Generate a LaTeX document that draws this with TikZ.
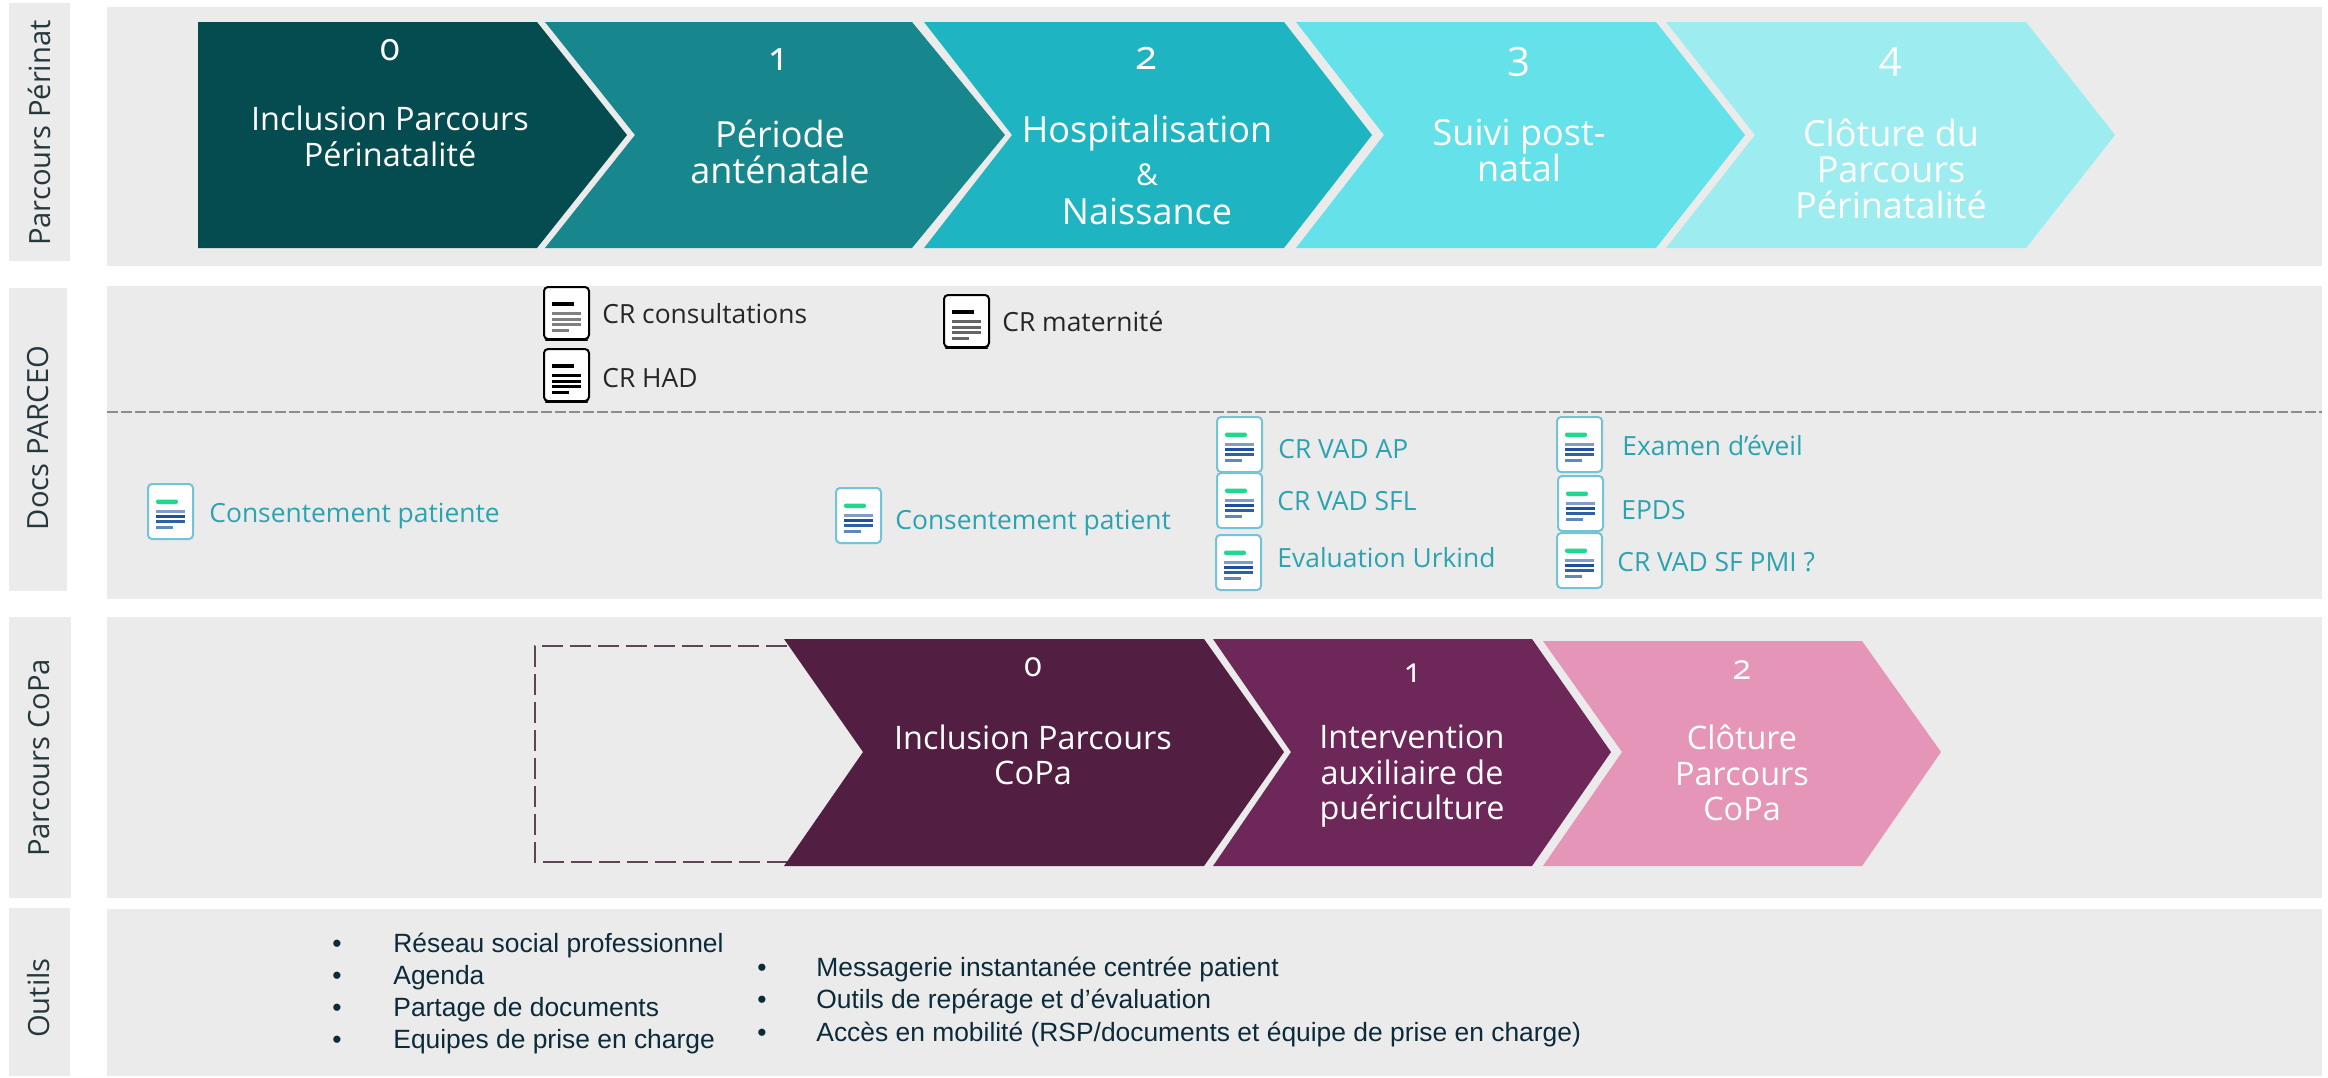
\documentclass[tikz,border=0pt]{standalone}
\usepackage{fontspec}
\setmainfont{Open Sans}
\newfontfamily\chevfont{Open Sans}
\newfontfamily\numfont[Numbers=OldStyle]{Open Sans}
\newfontfamily\docfont{Open Sans}
\newfontfamily\sidefont{Open Sans}
\newfontfamily\toolfont{Liberation Sans}
\definecolor{bandgray}{HTML}{EBEBEB}
\definecolor{sidetext}{HTML}{25383D}
\definecolor{tealA}{HTML}{054C50}
\definecolor{tealB}{HTML}{17868D}
\definecolor{tealC}{HTML}{1FB4C1}
\definecolor{tealD}{HTML}{65E1EA}
\definecolor{tealE}{HTML}{9DECF0}
\definecolor{plumA}{HTML}{521F43}
\definecolor{plumB}{HTML}{6E2759}
\definecolor{plumC}{HTML}{E596B8}
\definecolor{doctext}{HTML}{2BA3B0}
\definecolor{docedge}{HTML}{72C4D6}
\definecolor{docgreen}{HTML}{1ED98F}
\definecolor{navy}{HTML}{0B2A3A}
\definecolor{blA}{HTML}{7F9CCB}
\definecolor{blB}{HTML}{1F4FA0}
\definecolor{blC}{HTML}{2F5FA8}
\definecolor{blD}{HTML}{5F88BF}
\definecolor{boxline}{HTML}{5A4654}
\newcommand{\chev}[8]{% colour, x0, notch or x0, shoulder, tip, top, mid, bottom
  \fill[#1] (#2,#6) -- (#4,#6) -- (#5,#7) -- (#4,#8) -- (#2,#8) -- (#3,#7) -- cycle;}
\newcommand{\blackicon}[3]{% x y colour-of-lines
  \begin{scope}[shift={(#1,#2)}]
    \draw[black,line width=1.1pt,line cap=round] (2,53) -- (43,53);
    \draw[black,line width=1pt,fill=white,rounded corners=2pt] (0,0) rectangle (45,52);
    \fill[black] (8,15) rectangle (30,19);
    \fill[#3] (8,25) rectangle (37,28);
    \fill[#3] (8,30.5) rectangle (37,33.5);
    \fill[#3] (8,36) rectangle (37,39);
    \fill[#3] (8,41.5) rectangle (25,44.5);
  \end{scope}}
\newcommand{\blueicon}[2]{% x y
  \begin{scope}[shift={(#1,#2)}]
    \draw[docedge,line width=1pt,fill=white,rounded corners=2pt] (0,0) rectangle (45,55);
    \fill[docgreen,rounded corners=1pt] (8,15.5) rectangle (30,20);
    \fill[blA] (8,26) rectangle (37,28.5);
    \fill[blB] (8,31) rectangle (37,33.5);
    \fill[blC] (8,36) rectangle (37,38.5);
    \fill[blD] (8,41.5) rectangle (25,44.5);
  \end{scope}}
\tikzset{
  x=0.5pt,y=-0.5pt,
  band/.style={fill=bandgray,draw=none},
  sidelabel/.style={rotate=90,text=sidetext,font=\sidefont\fontsize{14.6}{17}\selectfont,inner sep=0pt},
  chevlabel/.style={text=white,align=center,inner sep=0pt,font=\chevfont\fontsize{18}{18}\selectfont},
  chevfirst/.style={text=white,align=center,inner sep=0pt,font=\chevfont\fontsize{16.2}{18}\selectfont},
  chevsmall/.style={text=white,align=center,inner sep=0pt,font=\chevfont\fontsize{16.2}{17.8}\selectfont},
  numlabel/.style={text=white,inner sep=0pt,font=\numfont\fontsize{20}{20}\selectfont},
  numsmall/.style={text=white,inner sep=0pt,font=\numfont\fontsize{17}{17}\selectfont},
  blackdoc/.style={anchor=west,inner sep=0pt,text=black!85,font=\docfont\fontsize{13.2}{15}\selectfont},
  bluedoc/.style={anchor=west,inner sep=0pt,text=doctext,font=\docfont\fontsize{13.2}{15}\selectfont},
  toolitem/.style={anchor=west,inner sep=0pt,text=navy,font=\toolfont\fontsize{13.2}{15}\selectfont},
}
\begin{document}
\begin{tikzpicture}
\useasboundingbox (0,0) rectangle (2328,1077);
% bands
\fill[band] (107,7) rectangle (2322,266);
\fill[band] (107,286) rectangle (2322,599);
\fill[band] (107,617) rectangle (2322,898);
\fill[band] (107,909) rectangle (2322,1076);
\fill[band] (9,3) rectangle (70,261);
\fill[band] (9,288) rectangle (67,591);
\fill[band] (9,617) rectangle (71,898);
\fill[band] (9,908) rectangle (70,1076);
\node[sidelabel] (sideA) at (39,133) {Parcours Périnat};
\node[sidelabel] (sideB) at (38,438) {Docs PARCEO};
\node[sidelabel] (sideC) at (39,758) {Parcours CoPa};
\node[sidelabel] (sideD) at (39,998) {Outils};
% separator
\coordinate (sepL) at (107,412);
\coordinate (sepR) at (2322,412);
\draw[gray!90,line width=0.9pt,dash pattern=on 5.5pt off 1.5pt] (sepL) -- (sepR);
% perinat chevrons
\chev{tealA}{198}{198}{537}{627}{22}{135}{248}
\chev{tealB}{545}{635}{912}{1005}{22}{135}{248}
\chev{tealC}{924}{1012}{1284}{1372}{22}{135}{248}
\chev{tealD}{1296}{1384}{1656}{1745}{22}{135}{248}
\chev{tealE}{1666}{1755}{2026}{2115}{22}{135}{248}
\node[numlabel,font=\numfont\fontsize{19}{19}\selectfont] (pn0) at (390,50) {0};
\node[chevfirst] (pt0) at (390,136) {Inclusion Parcours\\Périnatalité};
\node[numlabel] (pn1) at (778,60) {1};
\node[chevlabel] (pt1) at (780,152) {Période\\anténatale};
\node[numlabel] (pn2) at (1147,58) {2};
\node[chevlabel] (pt2a) at (1147,133) {Hospitalisation};
\node[chevlabel,font=\chevfont\fontsize{15}{15}\selectfont] (pt2b) at (1147,175) {\&};
\node[chevlabel] (pt2c) at (1147,211) {Naissance};
\node[numlabel] (pn3) at (1519,62) {3};
\node[chevlabel] (pt3) at (1519,150) {Suivi post-\\natal};
\node[numlabel] (pn4) at (1891,62) {4};
\node[chevlabel] (pt4) at (1891,169) {Clôture du\\Parcours\\Périnatalité};
% docs
\blackicon{544}{287}{gray}
\blackicon{544}{349}{black}
\blackicon{944}{295}{gray!80!black}
\node[blackdoc] (d1) at (602,314) {CR consultations};
\node[blackdoc] (d2) at (602,378) {CR HAD};
\node[blackdoc] (d3) at (1002,322) {CR maternité};
\blueicon{148}{484}
\blueicon{836}{488}
\blueicon{1217}{417}
\blueicon{1217}{473}
\blueicon{1216}{535}
\blueicon{1557}{417}
\blueicon{1558}{476}
\blueicon{1557}{533}
\node[bluedoc] (e1) at (209,516) {Consentement patiente};
\node[bluedoc] (e2) at (895,523) {Consentement patient};
\node[bluedoc] (e3) at (1278,449) {CR VAD AP};
\node[bluedoc] (e4) at (1277,501) {CR VAD SFL};
\node[bluedoc] (e5) at (1277,558) {Evaluation Urkind};
\node[bluedoc] (e6) at (1622,446) {Examen d’éveil};
\node[bluedoc] (e7) at (1621,510) {EPDS};
\node[bluedoc] (e8) at (1617,562) {CR VAD SF PMI ?};
% copa
\coordinate (boxTR) at (787,646);
\coordinate (boxTL) at (535,646);
\coordinate (boxBL) at (535,862);
\coordinate (boxBR) at (787,862);
\draw[boxline,line width=1.2pt,dash pattern=on 10.5pt off 3.5pt] (boxTR) -- (boxTL) -- (boxBL) -- (boxBR);
\chev{plumA}{784}{863}{1204}{1284}{639}{752}{866}
\chev{plumB}{1213}{1291}{1532}{1611}{639}{752}{866}
\chev{plumC}{1543}{1622}{1862}{1941}{641}{752}{866}
\node[numsmall] (cn0) at (1033,667) {0};
\node[chevsmall] (ct0) at (1033,755) {Inclusion Parcours\\CoPa};
\node[numsmall] (cn1) at (1412,673) {1};
\node[chevsmall] (ct1) at (1412,776) {Intervention\\auxiliaire de\\puériculture};
\node[numsmall] (cn2) at (1742,670) {2};
\node[chevsmall] (ct2) at (1742,773) {Clôture\\Parcours\\CoPa};
% tools
\foreach \nm/\yy/\tx in {a/946/{Réseau social professionnel},b/978/{Agenda},c/1010/{Partage de documents},d/1042/{Equipes de prise en charge}}{
  \node[toolitem] (ta\nm) at (393,\yy) {\tx};
  \node[toolitem] (tba\nm) at (332,\yy) {•};
}
\foreach \nm/\yy/\tx in {a/970/{Messagerie instantanée centrée patient},b/1002/{Outils de repérage et d’évaluation},c/1035/{Accès en mobilité (RSP/documents et équipe de prise en charge)}}{
  \node[toolitem] (tc\nm) at (816,\yy) {\tx};
  \node[toolitem] (tbc\nm) at (757,\yy) {•};
}
\end{tikzpicture}
\end{document}
